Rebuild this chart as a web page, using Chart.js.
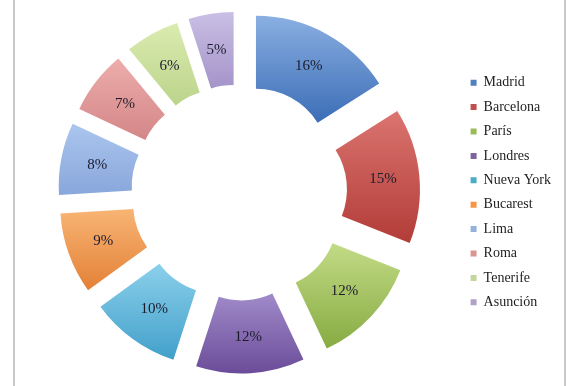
<!DOCTYPE html>
<html>
<head>
<meta charset="utf-8">
<script src="https://cdn.jsdelivr.net/npm/chart.js@4.4.1/dist/chart.umd.min.js"></script>
<style>
  html, body { margin: 0; padding: 0; background: #ffffff; }
  #wrap { width: 578px; height: 386px; position: relative; }
</style>
</head>
<body>
<div id="wrap"><canvas id="chart"></canvas></div>
<script>
// ---- data ----
const CATEGORIES = ['Madrid', 'Barcelona', 'París', 'Londres', 'Nueva York', 'Bucarest', 'Lima', 'Roma', 'Tenerife', 'Asunción'];
const VALUES = [16, 15, 12, 12, 10, 9, 8, 7, 6, 5];

// ---- styles ----
const BASE_COLORS  = ['#4F81BD', '#C0504D', '#9BBB59', '#8064A2', '#4BACC6', '#F79646', '#95B3D7', '#D99694', '#C3D69B', '#B3A2C7'];
const LIGHT_COLORS = ['#8AAFE2', '#DB746F', '#C2DB86', '#A08BC9', '#8BD0EB', '#F8B474', '#ABC5EE', '#ECADAB', '#DBEBB0', '#CABFE4'];
const DARK_COLORS  = ['#3B6DB6', '#B23C38', '#87AB42', '#6B4C99', '#42A0CA', '#E38137', '#88A7DB', '#D48687', '#BBD48B', '#A494C9'];
const EXPLODE = 35;
const OUTER_RADIUS = 146;
const CUTOUT = '50%';
const FONT_FAMILY = "'Liberation Serif', 'Times New Roman', serif";

const explodePlugin = {
  id: 'explode',
  beforeDatasetDraw(chart, args) {
    const meta = chart.getDatasetMeta(args.index);
    const ctx = chart.ctx;
    meta.data.forEach((arc, i) => {
      const mid = (arc.startAngle + arc.endAngle) / 2;
      arc._origX = arc.x; arc._origY = arc.y;
      arc.x += Math.cos(mid) * EXPLODE;
      arc.y += Math.sin(mid) * EXPLODE;
      let yMin = Infinity, yMax = -Infinity;
      for (let t = 0; t <= 16; t++) {
        const a = arc.startAngle + (arc.endAngle - arc.startAngle) * t / 16;
        [arc.outerRadius, arc.innerRadius].forEach(r => {
          const y = arc.y + Math.sin(a) * r;
          yMin = Math.min(yMin, y); yMax = Math.max(yMax, y);
        });
      }
      const g = ctx.createLinearGradient(0, yMin, 0, yMax);
      g.addColorStop(0, LIGHT_COLORS[i]);
      g.addColorStop(1, DARK_COLORS[i]);
      arc.options = Object.assign({}, arc.options, { backgroundColor: g });
    });
  },
  afterDatasetDraw(chart, args) {
    const meta = chart.getDatasetMeta(args.index);
    const ctx = chart.ctx;
    const total = VALUES.reduce((s, v) => s + v, 0);
    ctx.save();
    ctx.font = '15px ' + FONT_FAMILY;
    ctx.fillStyle = '#1B1B2C';
    ctx.textAlign = 'center';
    ctx.textBaseline = 'middle';
    meta.data.forEach((arc, i) => {
      const mid = (arc.startAngle + arc.endAngle) / 2;
      const rad = (arc.innerRadius + arc.outerRadius) / 2;
      const x = arc.x + Math.cos(mid) * rad;
      const y = arc.y + Math.sin(mid) * rad;
      ctx.fillText(Math.round(VALUES[i] / total * 100) + '%', x, y);
      arc.x = arc._origX; arc.y = arc._origY;
    });
    ctx.restore();
  }
};

const framePlugin = {
  id: 'frame',
  beforeDraw(chart) {
    const ctx = chart.ctx;
    ctx.save();
    ctx.fillStyle = '#FFFFFF';
    ctx.fillRect(0, 0, chart.width, chart.height);
    ctx.fillStyle = '#C9C9C9';
    ctx.fillRect(13, 0, 2, chart.height);
    ctx.fillRect(564, 0, 2, chart.height);
    ctx.restore();
  }
};

new Chart(document.getElementById('chart'), {
  type: 'doughnut',
  data: {
    labels: CATEGORIES,
    datasets: [{
      data: VALUES,
      backgroundColor: BASE_COLORS,
      borderWidth: 0,
      radius: OUTER_RADIUS,
      cutout: CUTOUT
    }]
  },
  options: {
    responsive: true,
    maintainAspectRatio: false,
    animation: false,
    events: [],
    layout: { padding: { left: 18, right: 17, top: 0, bottom: 1 } },
    plugins: {
      tooltip: { enabled: false },
      legend: {
        position: 'right',
        labels: {
          font: { family: FONT_FAMILY, size: 14 },
          color: '#1E1E1E',
          boxWidth: 6,
          boxHeight: 6,
          padding: 10.4
        }
      }
    }
  },
  plugins: [framePlugin, explodePlugin]
});
</script>
</body>
</html>
